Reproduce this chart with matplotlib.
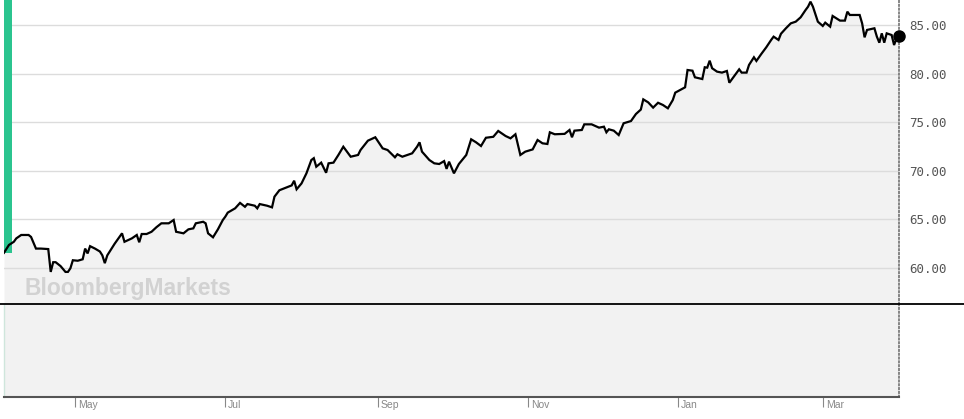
import matplotlib
matplotlib.use('Agg')
import matplotlib.pyplot as plt
import matplotlib.dates as mdates
import matplotlib.transforms as mtransforms
from matplotlib.lines import Line2D
from matplotlib.patches import Rectangle
import numpy as np

# one year of closing prices (day number counted from 2017-04-01)
start = np.datetime64('2017-04-01')
days = [1, 3, 5, 6, 8, 11, 12, 14, 16, 19, 20, 21, 22, 24, 26, 27, 28, 29, 31, 33,
        34, 35, 36, 38, 40, 41, 42, 43, 46, 49, 50, 53, 55, 56, 57, 59, 61, 63, 65, 68,
        70, 71, 74, 76, 78, 79, 82, 83, 84, 86, 88, 90, 91, 92, 95, 97, 99, 100, 103, 104,
        105, 108, 110, 111, 113, 116, 118, 119, 120, 122, 124, 126, 127, 128, 130, 132, 133, 135, 137, 139,
        140, 142, 145, 146, 149, 152, 155, 157, 160, 161, 163, 167, 169, 170, 171, 174, 176, 178, 180, 181,
        182, 184, 186, 189, 191, 193, 195, 197, 200, 202, 205, 207, 209, 211, 213, 216, 218, 220, 222, 223,
        225, 229, 231, 232, 233, 236, 237, 240, 243, 245, 246, 247, 249, 251, 253, 256, 258, 260, 261, 263,
        265, 267, 269, 271, 273, 274, 278, 279, 281, 282, 285, 286, 287, 288, 289, 291, 293, 295, 296, 298,
        300, 301, 303, 304, 306, 307, 309, 311, 313, 314, 316, 317, 319, 321, 323, 325, 327, 328, 329, 330,
        332, 334, 335, 337, 338, 341, 343, 344, 345, 349, 350, 351, 352, 355, 356, 357, 358, 359, 360, 362,
        363, 364, 365]
prices = [61.57, 62.37, 62.70, 63.05, 63.40, 63.40, 63.20, 62.00, 62.00, 61.95, 59.60, 60.60, 60.60, 60.20, 59.60, 59.60, 59.97, 60.80, 60.75, 60.90,
          62.00, 61.50, 62.25, 62.00, 61.70, 61.30, 60.50, 61.30, 62.50, 63.57, 62.70, 63.05, 63.40, 62.65, 63.50, 63.50, 63.73, 64.20, 64.60, 64.60,
          64.94, 63.73, 63.57, 63.98, 64.08, 64.60, 64.76, 64.60, 63.57, 63.16, 63.98, 64.94, 65.28, 65.70, 66.14, 66.70, 66.30, 66.58, 66.41, 66.14,
          66.58, 66.41, 66.24, 67.34, 68.00, 68.30, 68.50, 68.98, 68.10, 68.70, 69.74, 71.11, 71.30, 70.42, 70.84, 69.80, 70.77, 70.84, 71.63, 72.48,
          72.14, 71.45, 71.63, 72.14, 73.10, 73.45, 72.31, 72.14, 71.39, 71.70, 71.45, 71.80, 72.48, 72.93, 71.97, 71.11, 70.77, 70.70, 71.00, 70.20,
          70.94, 69.74, 70.70, 71.63, 73.24, 72.93, 72.55, 73.40, 73.50, 74.10, 73.58, 73.34, 73.76, 71.63, 71.97, 72.20, 73.17, 72.83, 72.76, 73.96,
          73.76, 73.80, 74.20, 73.45, 74.13, 74.20, 74.78, 74.78, 74.44, 74.54, 73.96, 74.27, 74.13, 73.68, 74.89, 75.12, 75.84, 76.30, 77.35, 77.04,
          76.50, 77.00, 76.77, 76.43, 77.28, 78.04, 78.59, 80.37, 80.30, 79.62, 79.44, 80.65, 80.61, 81.33, 80.55, 80.20, 80.10, 80.27, 79.06, 79.75,
          80.44, 80.10, 80.10, 80.89, 81.68, 81.30, 82.02, 82.70, 83.46, 83.80, 83.46, 84.10, 84.66, 85.17, 85.34, 85.79, 86.54, 86.88, 87.40, 86.88,
          85.34, 84.90, 85.24, 84.83, 85.93, 85.45, 85.45, 86.37, 86.03, 86.03, 85.17, 83.73, 84.49, 84.66, 83.80, 83.18, 84.14, 83.18, 84.14, 83.97,
          82.94, 83.63, 83.87]
price_ticks = [60, 65, 70, 75, 80, 85]
month_ticks = [5, 7, 9, 11, 1, 3]

dates = start + np.array(days).astype('timedelta64[D]')

W, H = 964, 419
fig = plt.figure(figsize=(W / 100, H / 100), dpi=100)
left, right = 4 / W, 899 / W
sep = 1 - 304 / H
bottom = 1 - 397 / H

ax = fig.add_axes([left, sep, right - left, 1 - sep])
ax2 = fig.add_axes([left, bottom, right - left, sep - bottom], sharex=ax)

ymin, ymax = 56.3, 87.57
ax.set_ylim(ymin, ymax)
ax.set_xlim(dates[0], dates[-1])

ax.fill_between(dates, prices, ymin - 5, color='#f2f2f2', zorder=0.3, lw=0)
ax.plot(dates, prices, color='black', lw=1.6, zorder=3, solid_joinstyle='miter')
ax.plot(dates[-1], prices[-1], 'o', color='black', ms=8, zorder=4, clip_on=False)

# green marker bar at the left edge
trans = mtransforms.blended_transform_factory(ax.transAxes, ax.transData)
ax.add_patch(Rectangle((0, prices[0]), 8 / (899 - 4), ymax - prices[0],
                       transform=trans, color='#2bc48f', lw=0, zorder=2))

ax.set_axisbelow(True)
ax.set_yticks(price_ticks)
ax.yaxis.tick_right()
ax.yaxis.set_major_formatter(plt.FormatStrFormatter('%.2f'))
ax.tick_params(axis='y', length=0, pad=7.5, labelsize=9, labelcolor='#555555')
for lbl in ax.get_yticklabels():
    lbl.set_family('DejaVu Sans Mono')
ax.grid(axis='y', color='#dcdcdc', lw=1)
ax.tick_params(axis='x', bottom=False, labelbottom=False)
for s in ['left', 'top', 'bottom']:
    ax.spines[s].set_visible(False)

# empty lower panel
ax2.set_facecolor('#f2f2f2')
ax2.set_yticks([])
ax2.spines['top'].set_visible(False)
ax2.spines['left'].set_color('#cfe6dc')
ax2.spines['left'].set_linewidth(1)
ax2.spines['bottom'].set_color('#555555')
ax2.spines['bottom'].set_linewidth(1.5)

# dotted right edge on both panels
for a in (ax, ax2):
    a.spines['right'].set_linestyle((0, (1, 1.5)))
    a.spines['right'].set_color('#666666')
    a.spines['right'].set_linewidth(1.1)

ax2.xaxis.set_major_locator(mdates.MonthLocator(bymonth=month_ticks))
ax2.xaxis.set_major_formatter(mdates.DateFormatter('%b'))
ax2.tick_params(axis='x', direction='out', length=7, width=0.8, color='#888888',
                labelsize=7.5, labelcolor='#888888', pad=-5)
shift = mtransforms.ScaledTranslation(3 / 100, 0, fig.dpi_scale_trans)
for lbl in ax2.get_xticklabels():
    lbl.set_ha('left')
    lbl.set_family('Liberation Sans')
    lbl.set_transform(lbl.get_transform() + shift)

# separator line across the full width
fig.add_artist(Line2D([0, 1], [sep, sep], color='black', lw=1.3))

fig.text(25 / W, 1 - 289 / H, 'BloombergMarkets', fontsize=16.5, fontweight='bold',
         family='Liberation Sans', color='#d2d2d2', va='center', ha='left')

fig.savefig('out.png', dpi=100)
